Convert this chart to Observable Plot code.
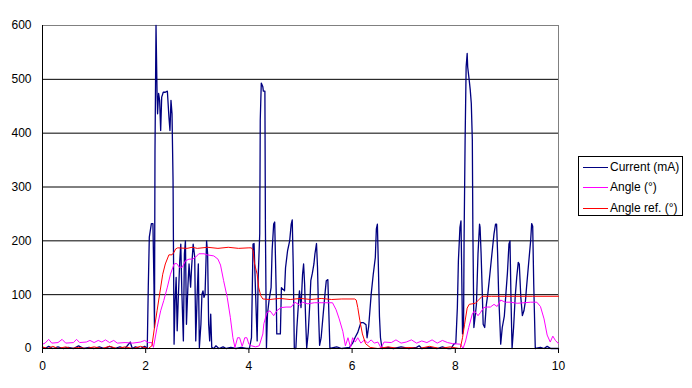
<!DOCTYPE html>
<html><head><meta charset="utf-8">
<script src="https://cdn.jsdelivr.net/npm/d3@7"></script>
<script src="https://cdn.jsdelivr.net/npm/@observablehq/plot@0.6"></script>
<style>
body{margin:0;background:#fff;}
#wrap{position:relative;width:692px;height:388px;font-family:"Liberation Sans",Arial,sans-serif;}
#legend{position:absolute;left:578px;top:156px;width:103px;height:58px;border:1px solid #000;background:#fff;font-size:12px;color:#000;}
.row{position:absolute;left:0;height:14px;width:103px;}
.sw{position:absolute;left:4px;top:7px;width:25px;height:0;border-top:1px solid;}
.lb{position:absolute;left:31px;top:0;line-height:14px;white-space:nowrap;}
</style></head><body><div id="wrap"></div>
<script>
// Current (mA)
const curX = [0.00,0.05,0.12,0.20,0.30,0.40,0.50,0.60,0.70,0.80,0.90,1.00,1.10,1.20,1.30,1.40,1.50,1.60,1.70,1.74,1.80,1.90,1.98,2.03,
2.05,2.07,2.11,2.14,2.16,2.17,2.18,2.20,2.22,2.23,2.25,2.27,2.29,2.31,2.34,2.38,2.42,2.45,2.47,2.49,2.51,2.53,2.55,2.57,2.59,2.61,2.63,2.66,2.68,2.70,2.73,2.75,2.77,2.79,2.82,2.84,2.87,2.89,2.92,2.95,2.97,3.00,3.02,3.04,3.07,3.09,3.11,3.13,3.15,3.18,3.20,3.22,3.24,3.26,3.28,3.32,3.36,3.42,3.50,3.56,3.65,3.75,3.85,3.95,
4.01,4.05,4.08,4.10,4.13,4.16,4.18,4.21,4.22,4.24,4.27,4.28,4.31,4.32,4.34,4.36,4.39,4.43,4.45,4.48,4.50,4.53,4.54,4.61,4.63,4.69,4.71,4.75,4.79,4.82,4.84,4.86,4.88,4.91,4.93,4.96,4.98,5.01,5.04,5.06,5.08,5.10,5.12,5.15,5.18,5.20,5.23,5.26,5.28,5.31,5.33,5.35,5.37,5.40,5.44,5.48,5.50,5.53,5.55,5.57,5.70,5.80,5.95,
6.01,6.06,6.11,6.14,6.17,6.22,6.27,6.29,6.32,6.34,6.37,6.41,6.45,6.47,6.49,6.51,6.53,6.55,6.58,6.70,6.80,6.95,7.10,7.25,7.30,7.35,7.50,7.65,7.75,7.85,7.92,7.97,
8.01,8.04,8.06,8.09,8.11,8.12,8.14,8.16,8.17,8.19,8.21,8.23,8.24,8.27,8.29,8.31,8.33,8.34,8.36,8.39,8.41,8.44,8.47,8.48,8.50,8.52,8.54,8.57,8.60,8.63,8.67,8.71,8.75,8.78,8.80,8.82,8.84,8.87,8.88,8.91,8.95,8.98,9.01,9.04,9.06,9.08,9.10,9.13,9.16,9.19,9.22,9.24,9.27,9.30,9.33,9.36,9.38,9.42,9.46,9.48,9.50,9.52,9.55,9.65,9.72,9.78,9.85,10.0];
const curY = [2,0,4,0,3,0,2,0,5,0,2,0,3,0,4,0,3,0,12,0,3,0,4,0,
114,207,232,232,120,39,368,600,474,436,474,461,405,467,476,476,478,430,405,461,436,312,8,89,132,33,89,163,194,107,14,176,200,45,120,157,114,151,194,170,14,107,157,2,45,101,107,95,101,200,176,45,14,64,2,0,5,0,3,0,2,0,2,0,
0,20,194,195,101,14,132,213,424,493,486,478,478,225,0,64,89,113,182,231,235,101,27,27,113,107,150,182,200,231,239,150,0,0,39,83,107,76,138,157,119,52,0,30,83,126,140,157,176,195,150,64,6,20,64,107,126,128,64,0,3,0,2,
10,21,30,39,48,48,44,20,40,64,101,138,169,222,231,150,60,20,0,2,0,3,0,2,5,0,2,0,3,0,0,8,
10,76,163,225,237,172,27,40,200,387,523,548,523,498,480,455,387,225,39,64,83,176,231,225,176,113,45,39,80,101,138,176,213,231,231,176,101,33,8,39,60,101,140,194,200,89,0,39,95,132,160,157,95,61,70,89,113,157,200,232,227,120,0,2,0,4,0,0];

// Angle (°)
const angX = [0.00,0.05,0.12,0.18,0.30,0.38,0.45,0.60,0.66,0.72,0.85,0.92,1.00,1.08,1.15,1.22,1.30,1.38,1.45,1.60,1.75,1.90,1.98,2.05,2.12,2.15,
2.22,2.29,2.35,2.42,2.48,2.55,2.60,2.65,2.71,2.77,2.84,2.91,2.97,3.03,3.13,3.19,3.32,3.40,3.45,3.51,3.58,3.64,3.69,3.73,3.78,3.82,3.87,3.92,3.96,4.00,4.05,4.13,4.20,
4.27,4.29,4.35,4.41,4.48,4.54,4.62,4.72,4.82,4.89,4.98,5.04,5.14,5.27,5.40,5.53,5.62,5.69,5.75,5.82,5.87,5.92,5.97,6.01,6.06,6.11,6.17,6.24,6.30,6.37,6.43,6.50,6.56,6.62,
6.76,6.85,6.95,7.05,7.15,7.25,7.35,7.45,7.55,7.65,7.75,7.85,7.95,8.10,8.15,8.20,8.26,8.33,8.37,8.44,8.49,8.55,8.62,8.68,8.75,8.81,8.88,8.97,9.07,9.20,9.33,9.46,9.58,9.65,9.72,9.78,9.84,9.89,9.94,10.0];
const angY = [8,10,17,10,11,17,10,11,17,11,12,15,11,15,12,16,11,15,10,11,10,12,15,11,11,2,
39,70,89,114,138,157,158,151,151,163,166,166,170,176,176,174,172,166,155,126,95,58,20,2,20,20,4,20,20,8,5,3,5,
27,46,67,70,61,70,76,77,77,86,81,86,83,85,85,85,85,72,55,32,5,20,2,20,12,20,10,16,10,16,10,12,1,12,
11,16,10,12,16,10,14,11,16,10,15,11,9,8,0,14,39,64,70,61,67,76,77,77,82,78,90,86,86,84,85,86,86,78,55,25,12,23,15,9];

// Angle ref. (°)
const refX = [0.00,0.10,0.20,0.30,0.45,0.55,0.70,0.85,1.00,1.15,1.30,1.45,1.60,1.75,1.90,2.05,2.12,2.17,2.22,2.27,2.33,2.38,2.45,2.51,2.55,2.58,2.62,2.80,2.90,3.00,3.20,3.40,3.60,3.80,4.00,4.05,
4.08,4.11,4.16,4.19,4.23,4.27,4.40,4.60,4.80,5.00,5.20,5.40,5.60,5.80,6.05,6.08,6.11,6.15,6.20,6.26,6.35,6.50,6.70,6.90,7.10,7.30,7.50,7.70,7.90,8.08,
8.10,8.14,8.18,8.23,8.27,8.39,8.45,8.52,8.70,9.00,9.50,10.0];
const refY = [3,0,4,0,3,0,2,0,3,0,4,0,3,0,4,0,5,39,70,101,138,157,174,174,179,185,187,186,188,186,188,186,188,186,187,187,
182,157,138,113,98,92,91,93,91,93,91,93,91,92,92,90,76,52,27,9,2,0,3,0,2,0,4,0,3,0,
2,20,45,75,82,84,90,97,97,97,97,97];

const yTicks = [0,100,200,300,400,500,600];
const xTicks = [0,2,4,6,8,10];
const gridLines = [100,200,300,400,500];

const seriesNames = ["Current (mA)","Angle (°)","Angle ref. (°)"];
const seriesColors = ["#000080","#FF00FF","#FF0000"];

const toRows = (xs, ys) => xs.map((x, i) => ({x, y: ys[i]}));
const cur = toRows(curX, curY), ang = toRows(angX, angY), ref = toRows(refX, refY);

const chart = Plot.plot({
  width: 692, height: 388,
  marginLeft: 42, marginRight: 134, marginTop: 25, marginBottom: 40,
  style: {fontFamily: '"Liberation Sans", Arial, sans-serif', fontSize: "12px", background: "#fff", color: "#000"},
  x: {domain: [0, 10], ticks: xTicks},
  y: {domain: [0, 600], ticks: yTicks},
  marks: [
    Plot.ruleY(gridLines, {stroke: "#000", strokeWidth: 1}),
    Plot.ruleY([600], {stroke: "#808080", strokeWidth: 1}),
    Plot.ruleX([10], {stroke: "#808080", strokeWidth: 1}),
    Plot.line(cur, {x: "x", y: "y", stroke: seriesColors[0], strokeWidth: 1.3}),
    Plot.line(ang, {x: "x", y: "y", stroke: seriesColors[1], strokeWidth: 1}),
    Plot.line(ref, {x: "x", y: "y", stroke: seriesColors[2], strokeWidth: 1}),
    Plot.ruleX([0], {stroke: "#000", strokeWidth: 1}),
    Plot.ruleY([0], {stroke: "#000", strokeWidth: 1}),
    Plot.axisY(yTicks, {tickSize: 0, tickPadding: 11, label: null, fill: "#000"}),
    Plot.axisX(xTicks, {tickSize: 5, tickPadding: 8, label: null, fill: "#000", stroke: "#000"})
  ]
});

const wrap = document.getElementById("wrap");
wrap.appendChild(chart);
const leg = document.createElement("div");
leg.id = "legend";
const rowTops = [3, 23, 44];
seriesNames.forEach((name, i) => {
  const r = document.createElement("div");
  r.className = "row";
  r.style.top = rowTops[i] + "px";
  const sw = document.createElement("div");
  sw.className = "sw";
  sw.style.borderTopColor = seriesColors[i];
  const lb = document.createElement("div");
  lb.className = "lb";
  lb.textContent = name;
  r.appendChild(sw); r.appendChild(lb);
  leg.appendChild(r);
});
wrap.appendChild(leg);
</script>
</body></html>
